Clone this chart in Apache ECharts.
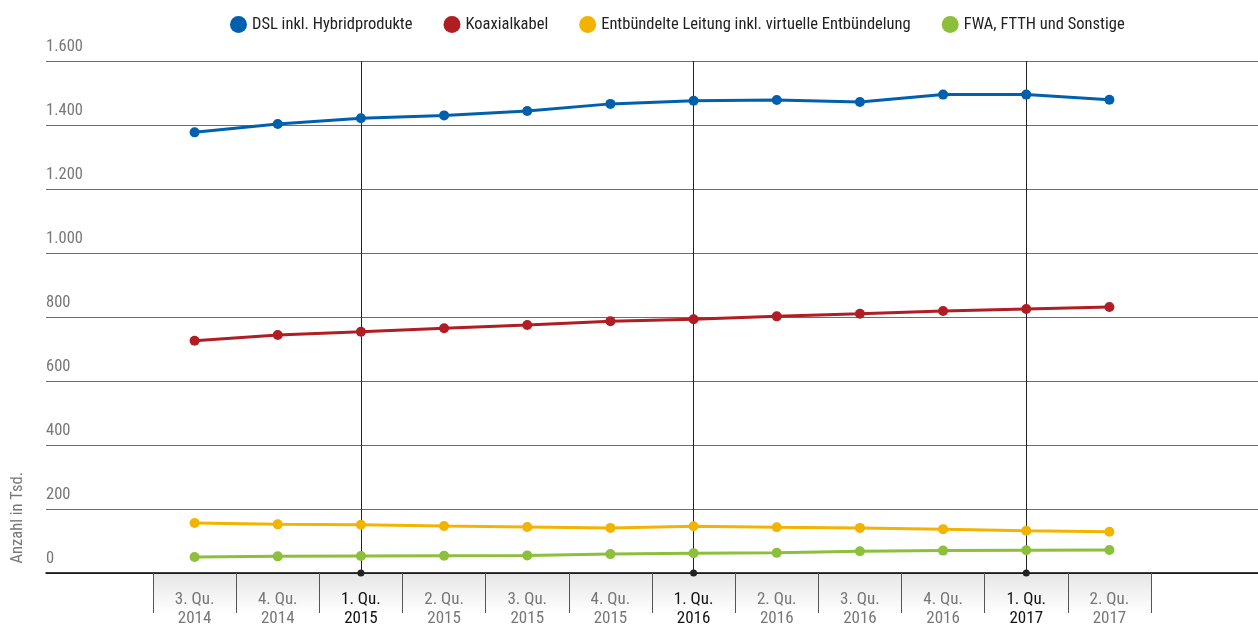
<!DOCTYPE html>
<html><head><meta charset="utf-8">
<script src="https://cdn.jsdelivr.net/npm/echarts@6/dist/echarts.min.js"></script>
<style>html,body{margin:0;padding:0;background:#fff}#c{width:1258px;height:627px}</style>
</head><body><div id="c"></div>
<script>
const categories = ['3. Qu.\n2014','4. Qu.\n2014','1. Qu.\n2015','2. Qu.\n2015','3. Qu.\n2015','4. Qu.\n2015','1. Qu.\n2016','2. Qu.\n2016','3. Qu.\n2016','4. Qu.\n2016','1. Qu.\n2017','2. Qu.\n2017'];
const dsl = [1377,1403,1421,1430,1444,1466,1476,1478,1472,1495,1495,1479];
const koax = [726,744,754,765,775,787,793,802,810,819,825,831];
const entb = [156,152,151,147,144,141,146,143,141,137,132,129];
const fwa = [50,52,53,54,55,59,62,63,68,70,71,72];
const seriesNames = ['DSL inkl. Hybridprodukte','Koaxialkabel','Entbündelte Leitung inkl. virtuelle Entbündelung','FWA, FTTH und Sonstige'];
const colors = ['#0060ae','#b01e23','#f2b400','#8cbf3a'];
const yearMarks = ['1. Qu.\n2015','1. Qu.\n2016','1. Qu.\n2017'];
const yTitle = 'Anzahl in Tsd.';

const FONT = '"Roboto Condensed","Liberation Sans Narrow","Roboto",sans-serif';
const chart = echarts.init(document.getElementById('c'), null, {renderer:'canvas'});

function mk(i, data) {
  return {
    name: seriesNames[i], type: 'line', xAxisIndex: 1, yAxisIndex: 1, data: data,
    symbol: 'circle', symbolSize: 10, lineStyle: {width: 3, color: colors[i]},
    itemStyle: {color: colors[i]}, z: 5, animation: false
  };
}
const s0 = mk(0, dsl);
s0.markLine = {
  silent: true, symbol: ['circle','none'], symbolSize: 7,
  label: {show: false},
  lineStyle: {color: '#222', width: 1, type: 'solid'},
  itemStyle: {color: '#000'},
  data: yearMarks.map(v => ({xAxis: v})),
  animation: false
};

chart.setOption({
  animation: false,
  textStyle: {fontFamily: FONT},
  legend: {
    top: 11, left: 225, width: 1100, itemWidth: 17, itemHeight: 17, itemGap: 31, icon: 'circle',
    textStyle: {fontFamily: FONT, fontSize: 16.5, color: '#222'},
    data: seriesNames
  },
  grid: [
    {left: 46, right: 0, top: 61, bottom: 54, containLabel: false, outerBoundsMode: 'none'},
    {left: 153, right: 107, top: 61, bottom: 54, containLabel: false, outerBoundsMode: 'none'},
    {left: 153, right: 107, top: 574, height: 39, containLabel: false, outerBoundsMode: 'none'}
  ],
  xAxis: [
    {type: 'value', gridIndex: 0, min: 0, max: 1, axisLine: {show: true, onZero: false, lineStyle: {color: '#000', width: 1.5}},
     axisTick: {show: false}, axisLabel: {show: false}, splitLine: {show: false}},
    {type: 'category', gridIndex: 1, data: categories, boundaryGap: true,
     axisLine: {show: false}, axisTick: {show: true, length: 40, interval: 0, lineStyle: {color: '#555', width: 1}},
     axisLabel: {interval: 0, margin: 17, fontFamily: FONT, fontSize: 17, lineHeight: 19,
       color: (v) => yearMarks.indexOf(v) >= 0 ? '#111' : '#777'},
     splitLine: {show: false}},
    {type: 'category', gridIndex: 2, data: categories, boundaryGap: true,
     axisLine: {show: false}, axisTick: {show: false}, axisLabel: {show: false},
     splitArea: {show: true, interval: 0, areaStyle: {color: [{type: 'linear', x: 0, y: 0, x2: 0, y2: 1,
       colorStops: [{offset: 0, color: '#e6e6e6'}, {offset: 1, color: '#ffffff'}]}]}}}
  ],
  yAxis: [
    {type: 'value', gridIndex: 0, min: 0, max: 1600, interval: 200,
     axisLine: {show: false}, axisTick: {show: false},
     axisLabel: {inside: true, margin: 0, verticalAlign: 'bottom', padding: [0,0,6,0], fontFamily: FONT, fontSize: 16.5, color: '#777',
       formatter: (v) => v.toLocaleString('de-DE')},
     splitLine: {show: true, lineStyle: {color: '#6e6e6e', width: 1}}},
    {type: 'value', gridIndex: 1, min: 0, max: 1600, interval: 200,
     axisLine: {show: false}, axisTick: {show: false}, axisLabel: {show: false}, splitLine: {show: false}},
    {type: 'value', gridIndex: 2, show: false}
  ],
  graphic: [{
    type: 'text', left: 9, top: 472, rotation: Math.PI / 2,
    style: {text: yTitle, fontFamily: FONT, fontSize: 16.5, fill: '#777'}
  }],
  series: [s0, mk(1, koax), mk(2, entb), mk(3, fwa)]
});
</script></body></html>
